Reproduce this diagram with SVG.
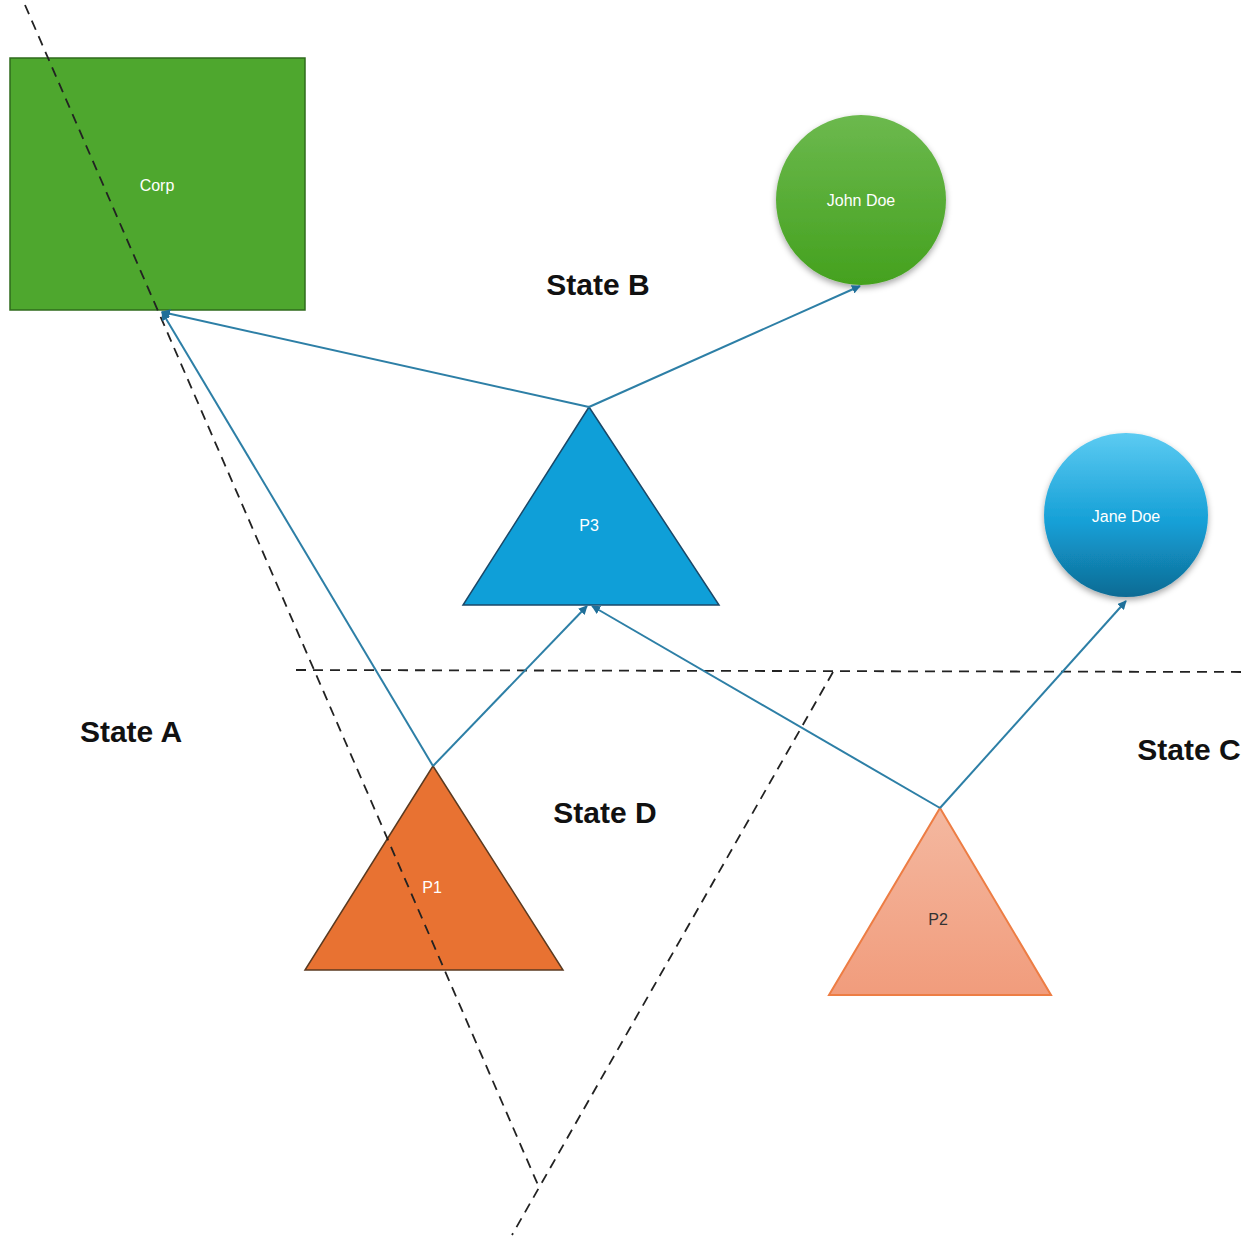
<svg xmlns="http://www.w3.org/2000/svg" width="1246" height="1241" viewBox="0 0 1246 1241">
<defs>
<linearGradient id="gJohn" x1="0" y1="0" x2="0" y2="1"><stop offset="0" stop-color="#6cb94e"/><stop offset="1" stop-color="#44a11e"/></linearGradient>
<linearGradient id="gJane" x1="0" y1="0" x2="0" y2="1"><stop offset="0" stop-color="#5ccbf2"/><stop offset="0.55" stop-color="#149fd6"/><stop offset="1" stop-color="#0f6b94"/></linearGradient>
<linearGradient id="gP2" x1="0" y1="0" x2="0" y2="1"><stop offset="0" stop-color="#f4b8a0"/><stop offset="1" stop-color="#f19c7c"/></linearGradient>
<filter id="sh" x="-20%" y="-20%" width="140%" height="140%"><feDropShadow dx="0" dy="3" stdDeviation="3" flood-color="#000" flood-opacity="0.35"/></filter>
<marker id="ah" viewBox="0 0 10 10" refX="9" refY="5" markerWidth="4.5" markerHeight="4.5" orient="auto"><path d="M0,0 L10,5 L0,10 z" fill="#1f6f99"/></marker>
</defs>
<style>
.conn{stroke:#2d7fa6;stroke-width:2;fill:none;marker-end:url(#ah)}
.dash{stroke:#222;stroke-width:1.8;fill:none;stroke-dasharray:10 7}
.lbl{font-family:"Liberation Sans",Arial,sans-serif;font-size:16px;text-anchor:middle;dominant-baseline:central}
.state{font-family:"Liberation Sans",Arial,sans-serif;font-size:30px;font-weight:bold;fill:#111;text-anchor:middle;dominant-baseline:central}
</style>
<rect width="1246" height="1241" fill="#fff"/>
<g id="corp">
<rect x="10" y="58" width="295" height="252" fill="#4ea72e" stroke="#2f6b1c" stroke-width="1.5"/>
<text class="lbl" x="157" y="185" fill="#fff">Corp</text>
</g>
<g id="john-doe">
<circle cx="861" cy="200" r="85" fill="url(#gJohn)" filter="url(#sh)"/>
<text class="lbl" x="861" y="200" fill="#fff">John Doe</text>
</g>
<g id="jane-doe">
<circle cx="1126" cy="515" r="82" fill="url(#gJane)" filter="url(#sh)"/>
<text class="lbl" x="1126" y="516" fill="#fff">Jane Doe</text>
</g>
<g id="p3">
<polygon points="589,407 719,605 463,605" fill="#0f9fd8" stroke="#1b4868" stroke-width="1.5"/>
<text class="lbl" x="589" y="525" fill="#fff">P3</text>
</g>
<g id="p1">
<polygon points="433,766 563,970 305,970" fill="#e87232" stroke="#5b3a20" stroke-width="1.5"/>
<text class="lbl" x="432" y="887" fill="#fff">P1</text>
</g>
<g id="p2">
<polygon points="940,808 1051,995 829,995" fill="url(#gP2)" stroke="#ed7d44" stroke-width="2"/>
<text class="lbl" x="938" y="919" fill="#333">P2</text>
</g>
<g id="boundaries">
<path class="dash" d="M25,5 L538,1185"/>
<path class="dash" d="M296,670 L1245,672"/>
<path class="dash" d="M833,672 L512,1235"/>
</g>
<g id="connectors">
<path class="conn" d="M433,766 L162,312"/>
<path class="conn" d="M589,407 L162,312"/>
<path class="conn" d="M589,407 L860,286"/>
<path class="conn" d="M433,766 L587,606"/>
<path class="conn" d="M940,808 L592,606"/>
<path class="conn" d="M940,808 L1126,601"/>
</g>
<g id="states">
<text class="state" x="598" y="284">State B</text>
<text class="state" x="131" y="731">State A</text>
<text class="state" x="605" y="812">State D</text>
<text class="state" x="1189" y="749">State C</text>
</g>
</svg>
